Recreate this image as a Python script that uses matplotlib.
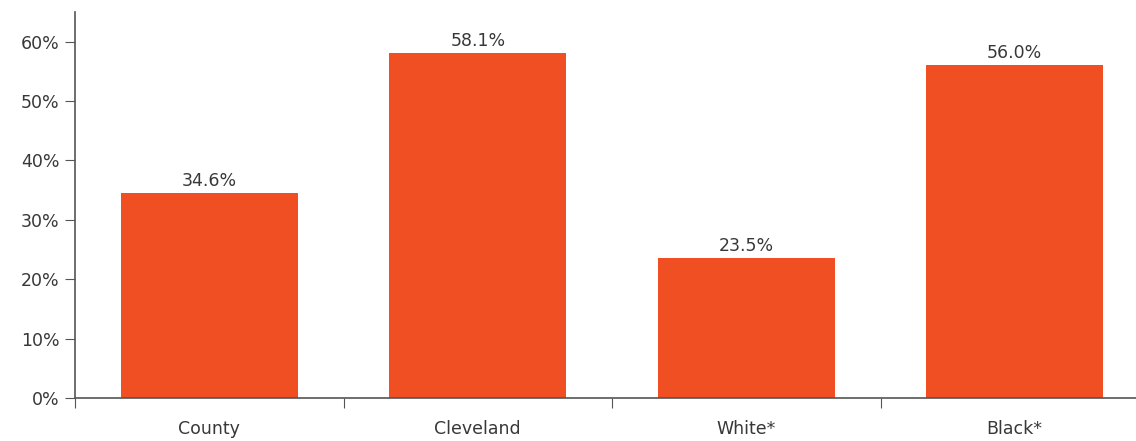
import matplotlib.pyplot as plt
import numpy as np

categories = ['County', 'Cleveland', 'White*', 'Black*']
values = [34.6, 58.1, 23.5, 56.0]

bar_color = '#F04F23'
text_color = '#383838'

plt.rcParams['font.family'] = ['DejaVu Sans']

fig = plt.figure(figsize=(11.36, 4.41), dpi=100)
ax = fig.add_axes([75 / 1136, 43 / 441, 1074 / 1136, 386 / 441])

x = np.arange(len(categories))
bars = ax.bar(x, values, width=0.66, color=bar_color)

for b, v in zip(bars, values):
    ax.text(b.get_x() + b.get_width() / 2, v + 0.5, f'{v:.1f}%',
            ha='center', va='bottom', fontsize=12.5, color=text_color)

ax.set_xlim(-0.5, len(categories) - 0.5)
ax.set_ylim(0, 65)
ax.set_yticks(np.arange(0, 61, 10))
ax.set_yticklabels([f'{t}%' for t in range(0, 61, 10)], fontsize=12.5, color=text_color)

# ticks at category boundaries, labels at centres
ax.set_xticks(np.arange(-0.5, len(categories), 1.0))
ax.set_xticklabels([])
ax.set_xticks(x, minor=True)
ax.set_xticklabels(categories, minor=True, fontsize=12.5, color=text_color)
ax.tick_params(axis='x', which='minor', length=0, pad=16)
ax.tick_params(axis='x', which='major', length=7, color='#555555')
ax.tick_params(axis='y', length=7, color='#555555', pad=4)

for s in ['top', 'right']:
    ax.spines[s].set_visible(False)
for s in ['left', 'bottom']:
    ax.spines[s].set_color('#555555')
    ax.spines[s].set_linewidth(1.2)

fig.savefig('out.png', dpi=100)
